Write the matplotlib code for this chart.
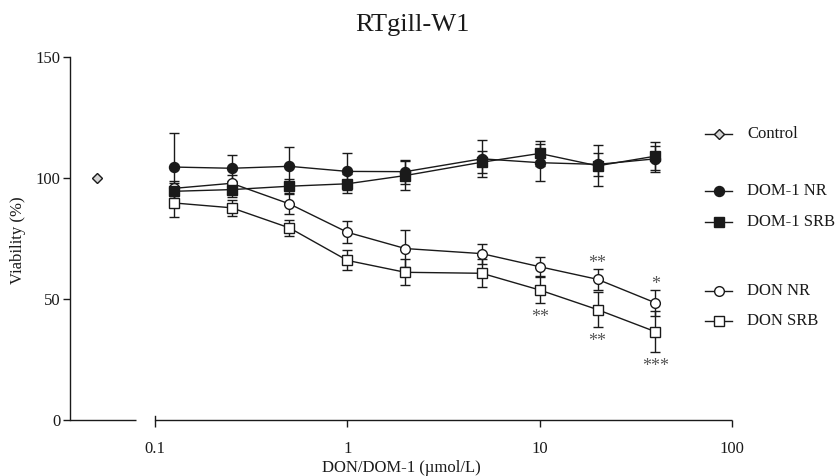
import matplotlib
matplotlib.use("Agg")
import matplotlib.pyplot as plt
from matplotlib.ticker import NullLocator

# concentrations (umol/L) and viability (%)
conc = [0.125, 0.25, 0.5, 1, 2, 5, 10, 20, 40]

dom_nr = [104.5, 104.0, 104.8, 102.7, 102.6, 107.9, 106.3, 105.6, 107.9]
dom_nr_err = [14.0, 5.4, 7.8, 7.7, 5.0, 7.7, 7.5, 4.6, 5.3]
dom_srb = [94.5, 95.2, 96.6, 97.6, 101.0, 106.5, 110.1, 105.0, 109.0]
dom_srb_err = [3.5, 3.0, 3.0, 4.0, 6.0, 4.6, 5.1, 8.5, 5.8]
don_nr = [95.7, 97.8, 89.3, 77.6, 70.9, 68.8, 63.4, 58.2, 48.5]
don_nr_err = [3.0, 3.5, 4.0, 4.6, 7.5, 4.1, 4.0, 4.3, 5.5]
don_srb = [89.7, 87.7, 79.4, 66.0, 61.1, 60.7, 53.8, 45.7, 36.6]
don_srb_err = [5.7, 3.2, 3.4, 4.1, 5.4, 5.7, 5.4, 7.1, 8.4]

ctrl_x = [0.05]
ctrl_y = [100]

don_nr_stars = ["", "", "", "", "", "", "", "**", "*"]
don_srb_stars = ["", "", "", "", "", "", "**", "**", "***"]

xticks = [0.1, 1, 10, 100]
xticklabels = ["0.1", "1", "10", "100"]
yticks = [0, 50, 100, 150]

plt.rcParams["font.family"] = ["Liberation Serif", "DejaVu Serif"]
plt.rcParams["font.size"] = 12

ink = "#1a1a1a"
star_col = "#555555"

fig = plt.figure(figsize=(8.39, 4.76), dpi=100)
ax = fig.add_axes([0.0834, 0.1166, 0.7891, 0.7643])


def series(y, err, marker, face, ms):
    ax.errorbar(conc, y, yerr=err, fmt="-", marker=marker, color=ink,
                mfc=face, mec=ink, ms=ms, mew=1.0, lw=1.0,
                elinewidth=1.0, capsize=3.6, capthick=1.0)


series(don_nr, don_nr_err, "o", "white", 7)
series(don_srb, don_srb_err, "s", "white", 6.5)
series(dom_nr, dom_nr_err, "o", ink, 7.2)
series(dom_srb, dom_srb_err, "s", ink, 6.8)
ax.plot(ctrl_x, ctrl_y, ls="none", marker="D", ms=5.5, mfc="#d4d4d4", mec=ink, mew=1.0)

for i, s in enumerate(don_nr_stars):
    if s:
        ax.annotate(s, (conc[i], don_nr[i] + don_nr_err[i]), xytext=(0, -2.3),
                    textcoords="offset points", ha="center", va="bottom",
                    color=star_col, fontsize=13)
for i, s in enumerate(don_srb_stars):
    if s:
        ax.annotate(s, (conc[i], don_srb[i] - don_srb_err[i]), xytext=(0, -4.2),
                    textcoords="offset points", ha="center", va="top",
                    color=star_col, fontsize=13)

ax.set_xscale("log")
ax.set_xlim(0.0361, 100)
ax.set_ylim(0, 150)
ax.set_xticks(xticks)
ax.set_xticklabels(xticklabels)
ax.xaxis.set_minor_locator(NullLocator())
ax.set_yticks(yticks)
for side in ["top", "right", "bottom"]:
    ax.spines[side].set_visible(False)
ax.spines["left"].set_color(ink)
ax.spines["left"].set_linewidth(1.0)
ax.tick_params(axis="x", length=5, width=1.0, color=ink, labelcolor=ink, pad=10)
ax.tick_params(axis="y", length=5, width=1.0, color=ink, labelcolor=ink, pad=2)

# broken x axis
tr = ax.get_xaxis_transform()
ax.plot([0.0361, 0.0792], [0, 0], transform=tr, color=ink, lw=1.0,
        clip_on=False, solid_capstyle="butt")
ax.plot([0.1, 100], [0, 0], transform=tr, color=ink, lw=1.0,
        clip_on=False, solid_capstyle="butt")
ax.plot([0.1, 0.1], [0, 0.0137], transform=tr, color=ink, lw=1.0, clip_on=False)

ax.set_xlabel("DON/DOM-1 (µmol/L)", color=ink, labelpad=2)
fig.text(0.022, 1 - 240 / 476, "Viability (%)", rotation=90, ha="center",
         va="center", color=ink)
fig.text(0.491, 1 - 25 / 476, "RTgill-W1", ha="center", va="center",
         fontsize=19, color=ink)

# legend drawn in figure pixels
lax = fig.add_axes([0, 0, 1, 1], facecolor="none")
lax.set_xlim(0, 839)
lax.set_ylim(476, 0)
lax.axis("off")
legend_rows = [
    ("Control", "D", "#d4d4d4", 5.5, 133.5),
    ("DOM-1 NR", "o", ink, 7.2, 191),
    ("DOM-1 SRB", "s", ink, 6.8, 222),
    ("DON NR", "o", "white", 7, 291),
    ("DON SRB", "s", "white", 6.5, 321),
]
for label, mk, face, ms, yy in legend_rows:
    lax.plot([705, 732], [yy, yy], color=ink, lw=1.0)
    lax.plot([718.5], [yy], marker=mk, ms=ms, mfc=face, mec=ink, mew=1.0)
    lax.text(747, yy, label, va="center", ha="left", color=ink)

fig.savefig("out.png", dpi=100)
